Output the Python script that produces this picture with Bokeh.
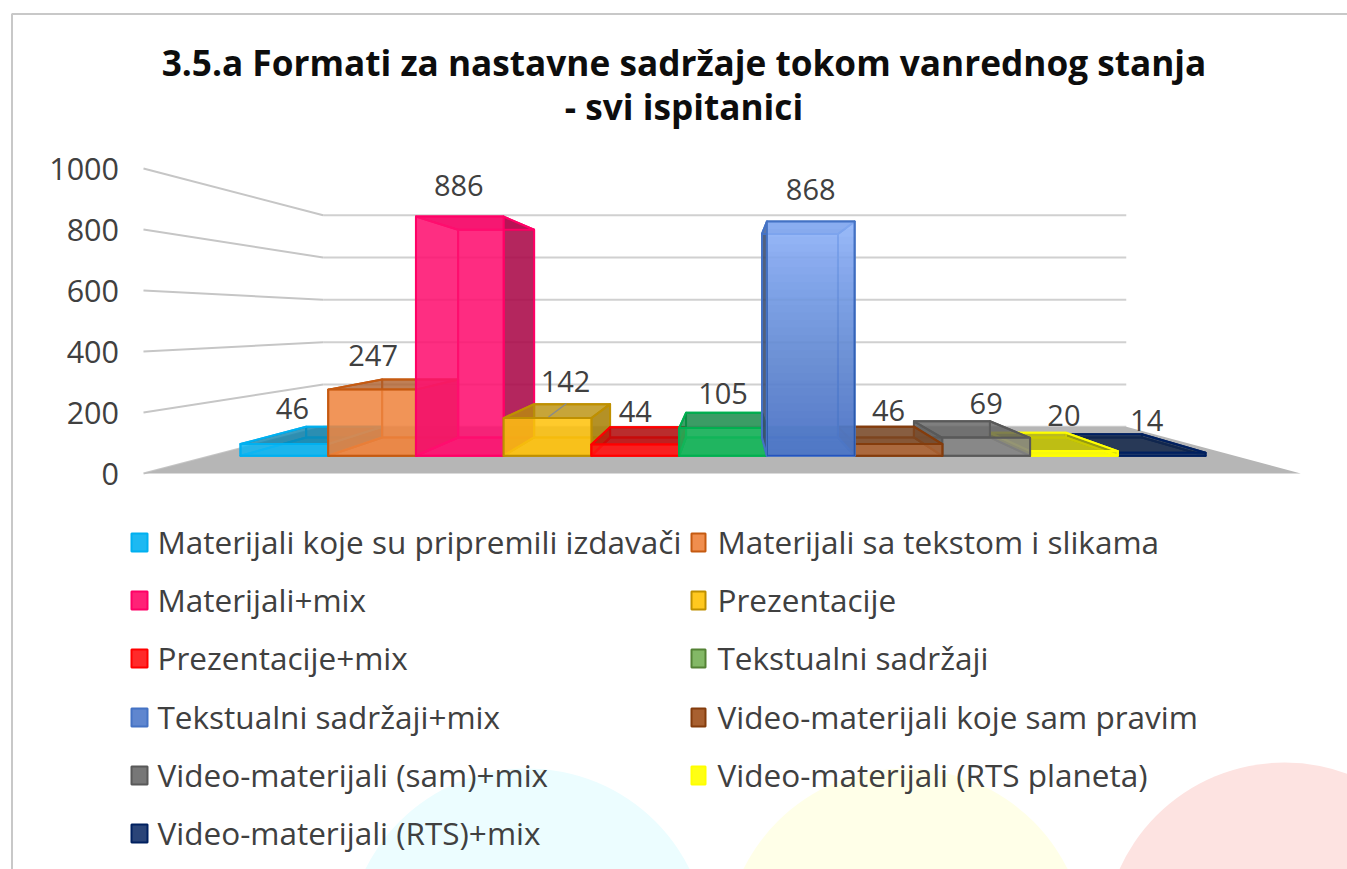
from bokeh.plotting import figure
from bokeh.models import Range1d, LinearAxis, FixedTicker
from bokeh.core.properties import value
from bokeh.embed import file_html
from bokeh.resources import INLINE

# ---- data ----
TITLE_LINES = ["3.5.a Formati za nastavne sadržaje tokom vanrednog stanja", "- svi ispitanici"]
CATEGORIES = ["Materijali koje su pripremili izdavači", "Materijali sa tekstom i slikama", "Materijali+mix",
              "Prezentacije", "Prezentacije+mix", "Tekstualni sadržaji", "Tekstualni sadržaji+mix",
              "Video-materijali koje sam pravim", "Video-materijali (sam)+mix", "Video-materijali (RTS planeta)",
              "Video-materijali (RTS)+mix"]
VALUES = [46, 247, 886, 142, 44, 105, 868, 46, 69, 20, 14]
TICKS = [0, 200, 400, 600, 800, 1000]

# ---- styles ----
FILL = ["#10B6F2", "#EF8540", "#FF1070", "#FFC410", "#FF1414", "#14B65A", "#8AB0F8", "#AB6436", "#858585", "#FFFF00", "#1F3864"]
EDGE = ["#00B0F0", "#C55A11", "#FF0066", "#BF9000", "#FF0000", "#00B050", "#4472C4", "#843C0C", "#595959", "#FFFF00", "#002060"]
SWATCH = ["#1DB9F2", "#F08E4E", "#FF2277", "#FFC81F", "#FF2A2A", "#83B866", "#5F86CF", "#A86030", "#777777", "#FFFF14", "#2A4478"]
SWATCH_EDGE = ["#00B0F0", "#C55A11", "#FF0066", "#BF9000", "#FF0000", "#548235", "#4472C4", "#843C0C", "#595959", "#FFFF00", "#002060"]
TEXT = "#404040"
TEXT_FONT = "Open Sans"
W, H = 1347, 869

# ---- scales: one x unit is one bar on the floor's front plane ----
PX_PER_U = 98.24
PX_U0 = 181.3
PX_PER_V = 0.305
PY_V0 = 473.0
def x_of(px): return (px - PX_U0) / PX_PER_U
def y_of(py): return (PY_V0 - py) / PX_PER_V

VP_U, VP_V = x_of(730), y_of(314)
S_FRONT, S_WALL = 0.893, 0.694
FLOOR_L, FLOOR_R = -0.39, 11.39
BAR_K = 0.994
WALL_SHIFT = -2 / PX_PER_V   # back wall sits 2px lower than the pure projection
BASE_SHIFT = 0.7 / PX_PER_V

def proj(u, v, s):
    return VP_U + s * (u - VP_U), VP_V + s * (v - VP_V)

def wall(u, v):
    x, y = proj(u, v, S_WALL)
    return x, y + WALL_SHIFT

def face(pts):
    return [q[0] for q in pts], [q[1] for q in pts]

p = figure(width=W, height=H, output_backend="svg", toolbar_location=None,
           x_range=Range1d(x_of(0), x_of(W)), y_range=Range1d(y_of(H), y_of(0)),
           min_border=0, outline_line_color=None, background_fill_color="white", border_fill_color="white")
p.xaxis.visible = False
p.yaxis.visible = False
p.grid.visible = False

# background circles and slide frame
for cx, cy, col in [(527, 949, "#ECFDFF"), (905, 949, "#FFFFE8"), (1284, 943, "#FDE3E1")]:
    p.scatter([x_of(cx)], [y_of(cy)], size=362, marker="circle", fill_color=col, line_color=None)
p.line([x_of(11.5), x_of(11.5), x_of(1347)], [y_of(870), y_of(13.5), y_of(13.5)], line_color="#C8C8C8", line_width=2)

# walls
for t in TICKS:
    a = proj(FLOOR_L, t, 1.0); b = wall(FLOOR_L, t); c = wall(FLOOR_R, t)
    p.line(*face([a, b]), line_color="#C6C6C6", line_width=2)
    p.line(*face([b, c]), line_color="#D0D0D0", line_width=2)

# floor
xs, ys = face([proj(FLOOR_L, 0, 1.0), proj(FLOOR_R, 0, 1.0), wall(FLOOR_R, 0), wall(FLOOR_L, 0)])
p.patch(xs, ys, fill_color="#B6B6B6", line_color=None)

# bars, painted from the outside towards the vanishing point
order = [0, 1, 2, 3, 4, 5, 10, 9, 8, 7, 6]
def darker(c, k):
    r, g, b = (int(c[i:i + 2], 16) for i in (1, 3, 5))
    return "#%02X%02X%02X" % (int(r * k), int(g * k), int(b * k))

for i in order:
    val = VALUES[i] * BAR_K
    l, r = float(i), float(i + 1)
    S_B = S_FRONT * 0.866
    f0, f1, b0, b1 = proj(l, 0, S_FRONT), proj(r, 0, S_FRONT), proj(r, 0, S_B), proj(l, 0, S_B)
    f0, f1 = (f0[0], f0[1] + BASE_SHIFT), (f1[0], f1[1] + BASE_SHIFT)
    ft0, ft1, bt0, bt1 = proj(l, val, S_FRONT), proj(r, val, S_FRONT), proj(r, val, S_B), proj(l, val, S_B)
    kw = dict(line_color=EDGE[i], line_width=2, line_join="round")
    fc = FILL[i]
    # back, bottom
    p.patch(*face([b0, b1, bt1, bt0]), fill_color=darker(fc, 0.9), fill_alpha=0.25, **kw)
    p.patch(*face([f0, f1, b0, b1]), fill_color=darker(fc, 0.92), fill_alpha=0.55, **kw)
    # visible side faces (towards the vanishing point)
    if r <= VP_U + 0.5:
        p.patch(*face([f1, b0, bt0, ft1]), fill_color=darker(fc, 0.66), fill_alpha=0.85, **kw)
        p.patch(*face([f0, b1, bt1, ft0]), fill_color=darker(fc, 0.85), fill_alpha=0.2, **kw)
    if l >= VP_U - 0.5:
        p.patch(*face([f0, b1, bt1, ft0]), fill_color=darker(fc, 0.42 if i == 6 else 0.70), fill_alpha=0.85, **kw)
        p.patch(*face([f1, b0, bt0, ft1]), fill_color=darker(fc, 0.85), fill_alpha=0.2, **kw)
    # top, front
    p.patch(*face([ft0, ft1, bt0, bt1]), fill_color=darker(fc, 0.72), fill_alpha=0.75, **kw)
    p.patch(*face([f0, f1, ft1, ft0]), fill_color=fc, fill_alpha=0.84, **kw)
    if i == 6:  # the blue bar fades downwards
        for k in range(1, 31):
            frac = k / 31
            a0, a1 = proj(l, val * (1 - frac), S_FRONT), proj(r, val * (1 - frac), S_FRONT)
            p.patch(*face([f0, f1, a1, a0]), fill_color="#1F4596", fill_alpha=0.022, line_color=None)

# data labels: offset in px from the top centre of the bar's front face
LABEL_DX = [8, 1, -1, 18, 0, 0, 0, -10, 0, -10, -15]
LABEL_DY = [-36, -34, -31, -37, -33, -35, -32, -34, -34, -36, -32]
lx, ly = [], []
for i, (dx, dy) in enumerate(zip(LABEL_DX, LABEL_DY)):
    cx, cy = proj(i + 0.5, VALUES[i] * BAR_K, S_FRONT)
    lx.append(cx + dx / PX_PER_U)
    ly.append(cy - dy / PX_PER_V)
p.text(lx, ly, text=[str(v) for v in VALUES], text_font=value(TEXT_FONT), text_font_size="29px",
       text_color=TEXT, text_align="center", text_baseline="middle")

# leader of the label 142
p.line([x_of(548), x_of(566)], [y_of(416.5), y_of(403)], line_color="#8A8A8A", line_width=1.5)

# value axis
axis = LinearAxis(fixed_location=x_of(129.5), ticker=FixedTicker(ticks=TICKS), axis_line_color=None,
                  major_tick_line_color=None, minor_tick_line_color=None, major_label_standoff=5,
                  major_label_text_font=TEXT_FONT, major_label_text_font_size="30.5px",
                  major_label_text_color=TEXT)
p.add_layout(axis, "left")

# title
p.text([x_of(683.5)] * 2, [y_of(61.5), y_of(105.5)], text=TITLE_LINES, text_font=value(TEXT_FONT),
       text_font_style="bold", text_font_size="35.2px", text_color="#0D0D0D",
       text_align="center", text_baseline="middle")

# legend
ROW_Y = [542, 600, 658, 717, 775, 833]
COLS = [(131, 147, 158), (691, 705, 718)]
for i, name in enumerate(CATEGORIES):
    x0, x1, tx = COLS[i % 2]
    ry = ROW_Y[i // 2]
    p.quad(left=[x_of(x0)], right=[x_of(x1)], top=[y_of(ry - 9)], bottom=[y_of(ry + 9)],
           fill_color=SWATCH[i], line_color=SWATCH_EDGE[i], line_width=2)
    p.text([x_of(tx - 1)], [y_of(ry - 1.5)], text=[name], text_font=value(TEXT_FONT), text_font_size="31.5px",
           text_color=TEXT, text_align="left", text_baseline="middle")

open("out.html", "w").write(file_html(p, INLINE))
